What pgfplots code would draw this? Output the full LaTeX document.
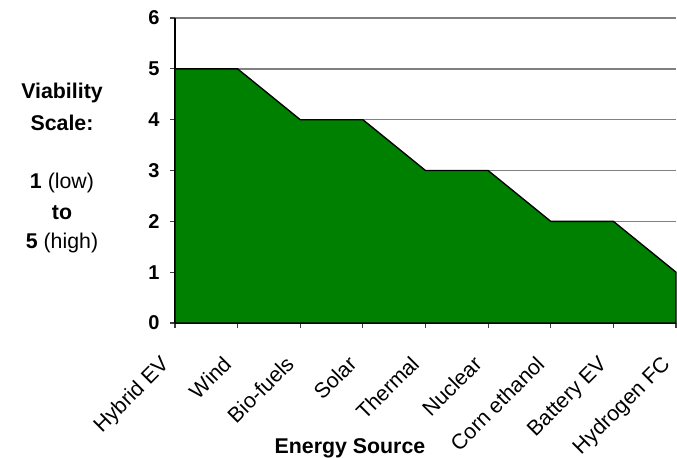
\documentclass[border=0pt]{standalone}
\usepackage{pgfplots}
\pgfplotsset{compat=1.18}
\usepackage{fontspec}
\setmainfont{Liberation Sans}
\definecolor{areagreen}{RGB}{0,128,0}
\definecolor{gridgray}{RGB}{128,128,128}

\begin{document}
\begin{tikzpicture}
\useasboundingbox (-131.25pt,-100.5pt) rectangle (376.5pt,242.25pt);
\begin{axis}[
  at={(0,0)}, anchor=south west,
  scale only axis,
  width=375.75pt, height=228.75pt,
  xmin=0, xmax=8,
  ymin=0, ymax=6,
  axis lines=left,
  axis line style={-, black, line width=1pt},
  xtick={0,...,8},
  xticklabels={Hybrid EV, Wind, Bio-fuels, Solar, Thermal, Nuclear, Corn ethanol, Battery EV, Hydrogen FC},
  ytick={0,...,6},
  tick align=outside,
  major tick length=3.5pt,
  tick style={black!75, line width=0.8pt},
  ymajorgrids,
  grid style={gridgray, line width=1pt},
  /pgf/number format/assume math mode=true,
  yticklabel style={font=\fontsize{15}{17}\selectfont\bfseries, xshift=-4.5pt},
  xticklabel style={font=\fontsize{16}{18}\selectfont, xshift=-12pt, yshift=-20pt, rotate=45, anchor=north east, inner sep=0pt},
  clip=false,
]
\addplot[fill=areagreen, draw=black, line width=1pt] coordinates {
  (0,5) (1,5) (2,4) (3,4) (4,3) (5,3) (6,2) (7,2) (8,1)
} \closedcycle;
\end{axis}
\node[font=\fontsize{16}{18}\selectfont\bfseries] at (131.25pt,-94pt) {Energy Source};
\begin{scope}[every node/.style={font=\fontsize{16}{18}\selectfont}]
\node at (-84.75pt,172.5pt) {\bfseries Viability};
\node at (-84.75pt,150pt) {\bfseries Scale:};
\node at (-84.75pt,105pt) {\textbf{1} (low)};
\node at (-84.75pt,82.5pt) {\bfseries to};
\node at (-84.75pt,60pt) {\textbf{5} (high)};
\end{scope}
\end{tikzpicture}
\end{document}
